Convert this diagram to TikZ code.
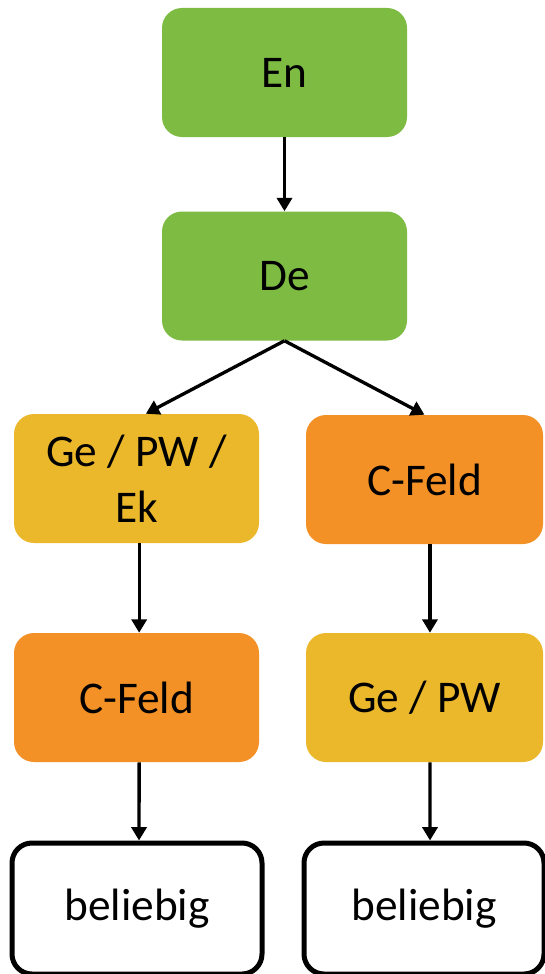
\documentclass[tikz,border=0pt]{standalone}
\usepackage{fontspec}
\setmainfont{Carlito}
\usetikzlibrary{arrows.meta,calc}
\definecolor{cgreen}{HTML}{7DBB42}
\definecolor{cyellow}{HTML}{EBB82C}
\definecolor{corange}{HTML}{F39126}
\begin{document}
\begin{tikzpicture}[x=0.75pt,y=-0.75pt,
  box/.style={rectangle,rounded corners=15pt,inner sep=0pt,align=center,
    font=\fontsize{34}{42}\selectfont,text=black},
  greenbox/.style={box,fill=cgreen,minimum width=183.75pt,minimum height=96.75pt},
  yellowbox/.style={box,fill=cyellow},
  orangebox/.style={box,fill=corange},
  endbox/.style={box,draw=black,line width=3.75pt,fill=white},
  conn/.style={line width=2.5pt,-{Triangle[width=11.25pt,length=10pt]}}]
\useasboundingbox (0,0) rectangle (544,974);
\node[greenbox] (En) at (284.5,72.5) {En};
\node[greenbox] (De) at (284.5,276) {De};
\node[yellowbox,minimum width=183.75pt,minimum height=96.75pt] (GeL) at (136.5,478.5) {Ge / PW /\\Ek};
\node[orangebox,minimum width=177.75pt,minimum height=96.75pt] (CR) at (424.5,479.5) {C-Feld};
\node[orangebox,minimum width=183.75pt,minimum height=96.75pt] (CL) at (136.5,697.5) {C-Feld};
\node[yellowbox,minimum width=177.75pt,minimum height=96.75pt] (GR) at (424.5,697.5) {Ge / PW};
\node[endbox,minimum width=187.5pt,minimum height=98.25pt] (BL) at (137,908.5) {beliebig};
\node[endbox,minimum width=180pt,minimum height=98.25pt] (BR) at (424,908.5) {beliebig};
\draw[conn] (En) -- (De);
\draw[conn] (De.south) -- ([xshift=7pt]GeL.north);
\draw[conn] (De.south) -- (CR.north);
\draw[conn] ([xshift=2pt]GeL.south) -- ([xshift=2pt]CL.north);
\draw[conn] ([xshift=2pt]CL.south) -- ([xshift=1.5pt]BL.north);
\draw[conn] ([xshift=4.1pt]CR.south) -- ([xshift=4.1pt]GR.north);
\draw[conn] ([xshift=4.1pt]GR.south) -- ([xshift=4.5pt]BR.north);
\end{tikzpicture}
\end{document}
